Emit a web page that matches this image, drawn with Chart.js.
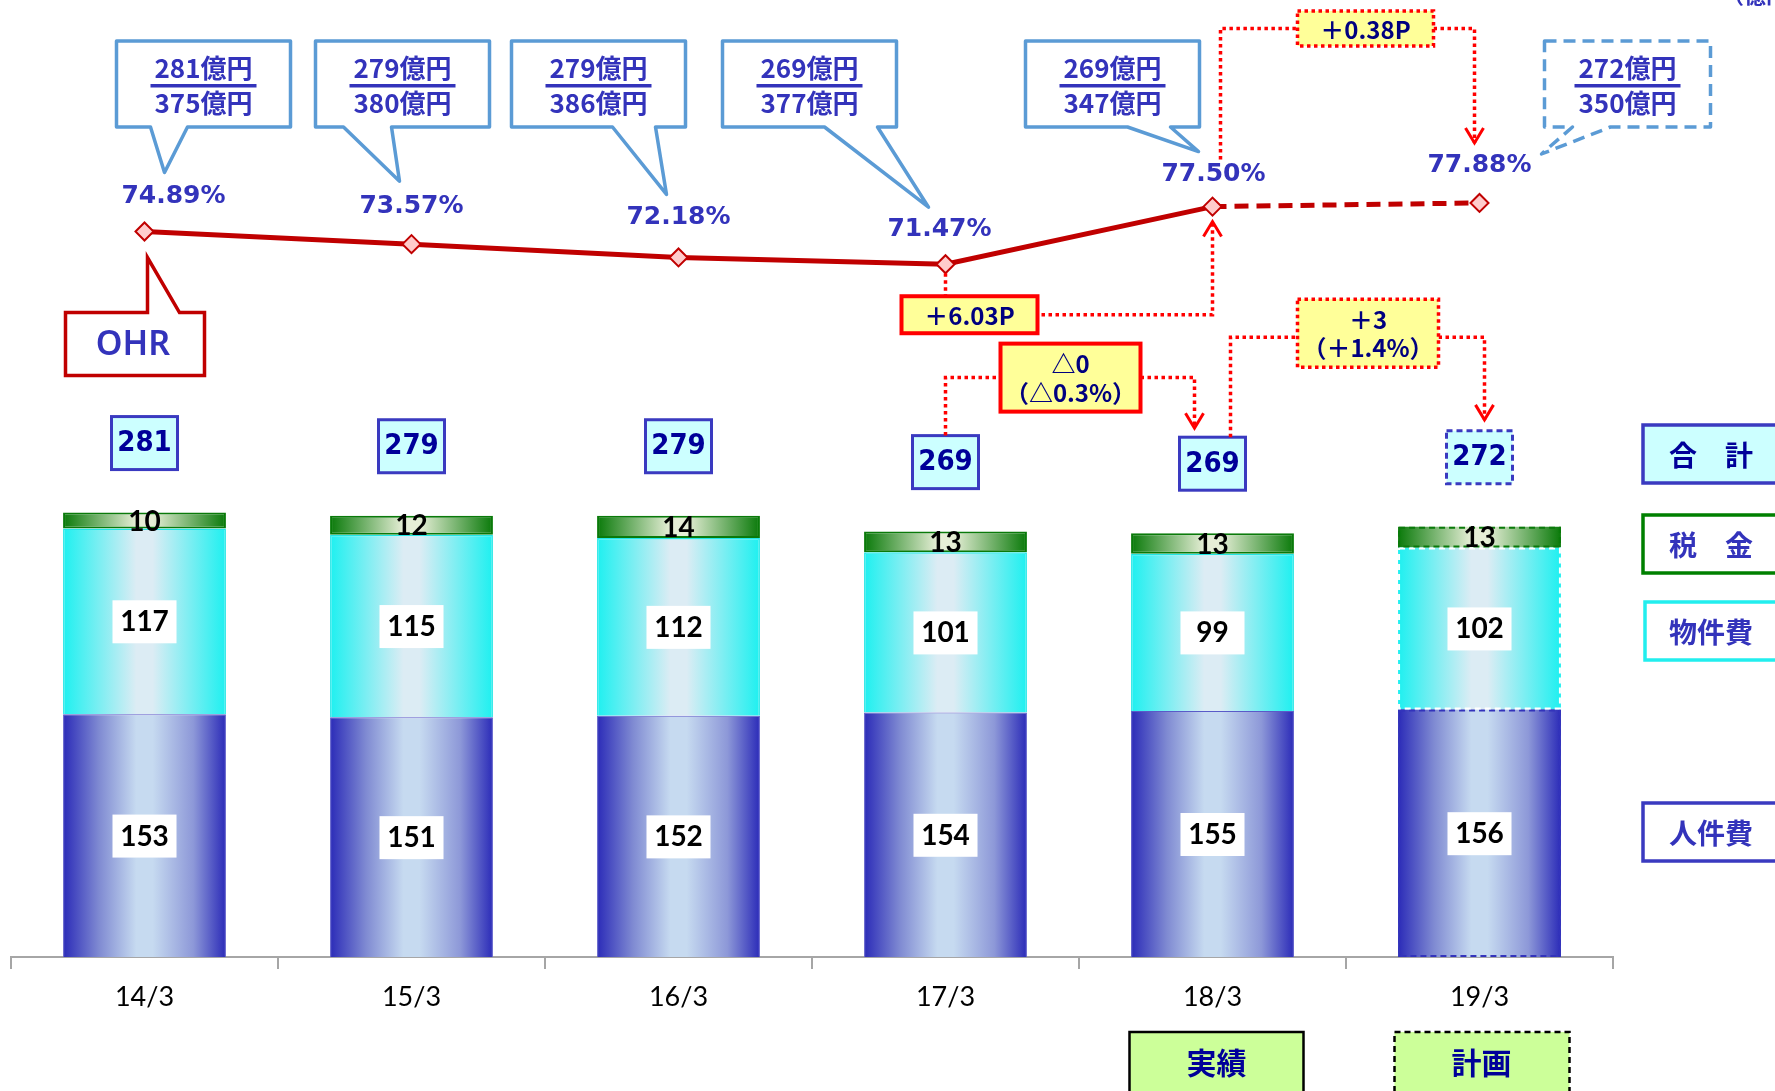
<!DOCTYPE html>
<html>
<head>
<meta charset="utf-8">
<script src="https://cdn.jsdelivr.net/npm/chart.js@4/dist/chart.umd.min.js"></script>
<style>
  html, body { margin: 0; padding: 0; background: #fff; overflow: hidden; }
</style>
</head>
<body>
<canvas id="chart" width="1775" height="1091"></canvas>
<script>
// data (億円 / %)
const periods = ['14/3', '15/3', '16/3', '17/3', '18/3', '19/3'];
const personnel = [153, 151, 152, 154, 155, 156];   // 人件費
const property = [117, 115, 112, 101, 99, 102];     // 物件費
const tax = [10, 12, 14, 13, 13, 13];               // 税金
const totals = [281, 279, 279, 269, 269, 272];      // 合計
const grossProfit = [375, 380, 386, 377, 347, 350]; // 業務粗利益 (分母)
const ohr = [74.89, 73.57, 72.18, 71.47, 77.50, 77.88];
const planIndex = 5; // 19/3 = 計画

const JP = '"Noto Sans CJK JP", sans-serif';
const NUM = 'Lato, "Noto Sans", sans-serif';
const NARROW = '"Liberation Sans Narrow", "DejaVu Sans Condensed", "Liberation Sans", sans-serif';
const NAVY = '#000099';
const BLUE_TXT = '#3333bb';

const blueStops = [[0, '#2b2bb8'], [0.22, '#7f8ad2'], [0.45, '#c6daf0'], [0.55, '#c6daf0'], [0.8, '#8d98d8'], [1, '#2b2bb8']];
const cyanStops = [[0, '#1ef0f0'], [0.45, '#dcecf4'], [0.55, '#dcecf4'], [1, '#1ef0f0']];
const greenStops = [[0, '#0a7a0a'], [0.45, '#e6eed6'], [0.55, '#e6eed6'], [1, '#0a7a0a']];

function barFill(stops) {
  return function (ctx) {
    const chart = ctx.chart;
    const xs = chart.scales.x;
    if (!xs || ctx.dataIndex === undefined) return stops[0][1];
    const cx = xs.getPixelForValue(ctx.dataIndex);
    const w = xs.width / periods.length * 0.61;
    if (!isFinite(cx) || !isFinite(w) || w <= 0) return stops[0][1];
    const g = chart.ctx.createLinearGradient(cx - w / 2, 0, cx + w / 2, 0);
    stops.forEach(s => g.addColorStop(s[0], s[1]));
    return g;
  };
}

function txt(c, s, x, y, font, color, align, base) {
  c.font = font;
  c.fillStyle = color;
  c.textAlign = align || 'center';
  c.textBaseline = base || 'middle';
  c.fillText(s, x, y);
}

function dotted(c, pts) {
  c.save();
  c.strokeStyle = '#ff0000';
  c.lineWidth = 3.5;
  c.setLineDash([3.5, 3.5]);
  c.beginPath();
  pts.forEach((p, i) => i ? c.lineTo(p[0], p[1]) : c.moveTo(p[0], p[1]));
  c.stroke();
  c.restore();
}

function arrowHead(c, x, y, dir) {
  // dir 1 = pointing down, -1 = pointing up
  c.save();
  c.strokeStyle = '#ff0000';
  c.lineWidth = 3;
  c.beginPath();
  c.moveTo(x - 9, y - dir * 15);
  c.lineTo(x, y);
  c.lineTo(x + 9, y - dir * 15);
  c.stroke();
  c.restore();
}

function rectBox(c, x, y, w, h, fill, stroke, lw, dash) {
  c.save();
  if (fill) { c.fillStyle = fill; c.fillRect(x, y, w, h); }
  if (stroke) {
    c.strokeStyle = stroke;
    c.lineWidth = lw;
    c.setLineDash(dash || []);
    c.strokeRect(x, y, w, h);
  }
  c.restore();
}

function yellowBox(c, x, y, w, h, solid, lines) {
  rectBox(c, x, y, w, h, '#ffff99', '#ff0000', solid ? 4 : 3.5, solid ? [] : [3.5, 3.5]);
  const f = 'bold 24px ' + JP;
  if (lines.length === 1) {
    txt(c, lines[0], x + w / 2, y + h / 2 + 1, f, '#000080');
  } else {
    txt(c, lines[0], x + w / 2, y + h * 0.3, f, '#000080');
    txt(c, lines[1], x + w / 2, y + h * 0.72, f, '#000080');
  }
}

const annotations = {
  id: 'annotations',
  afterDatasetsDraw(chart) {
    const c = chart.ctx;
    const xs = chart.scales.x, ys = chart.scales.y, ps = chart.scales.y2;
    const xc = i => xs.getPixelForValue(i);
    const py = i => ps.getPixelForValue(ohr[i]);

    // dashed outline of the plan bar, labels inside the bars
    const segMeta = [1, 2, 3].map(k => chart.getDatasetMeta(k));
    const dashCol = ['#3333bb', '#ffffff', '#0a7a0a'];
    segMeta.forEach((meta, k) => {
      meta.data.forEach((el, i) => {
        const top = Math.min(el.y, el.base), h = Math.abs(el.base - el.y);
        const left = el.x - el.width / 2;
        if (i === planIndex) {
          c.save();
          c.strokeStyle = dashCol[k];
          c.lineWidth = 2;
          c.setLineDash([6, 4]);
          c.strokeRect(left + 1, top + 1, el.width - 2, h - 2);
          c.restore();
        }
        const v = chart.data.datasets[k + 1].data[i];
        const cy = top + h / 2;
        if (k < 2) {
          rectBox(c, el.x - 32, cy - 21, 64, 43, '#ffffff');
        }
        txt(c, String(v), el.x, cy + 1, 'bold 28px ' + NUM, '#000');
      });
    });

    // total boxes
    const totTop = [];
    for (let i = 0; i < periods.length; i++) {
      const stackTop = personnel[i] + property[i] + tax[i];
      const cy = ys.getPixelForValue(stackTop) - 70;
      totTop.push(cy - 26);
      rectBox(c, xc(i) - 33, cy - 26, 66, 53, '#ccffff', '#3a3ac0', 3, i === planIndex ? [6, 4] : []);
      txt(c, String(totals[i]), xc(i), cy + 1, 'bold 29px ' + NARROW, NAVY);
    }

    // OHR labels
    const ldx = [29, 0, 0, -6, 1, 0];
    const ldy = [-35, -38, -40, -35, -32, -37];
    for (let i = 0; i < periods.length; i++) {
      txt(c, ohr[i].toFixed(2) + '%', xc(i) + ldx[i], py(i) + ldy[i], 'bold 25px "DejaVu Sans", sans-serif', BLUE_TXT);
    }

    // speech-bubble callouts: 経費 / 業務粗利益
    const cdx = [59, -9, -80, -136, -100, 148];
    const cw = [174, 174, 174, 174, 174, 166];
    const tailBase = [[34, 71], [28, 76], [101, 144], [102, 155], [102, 145], [28, 66]];
    const tipDx = [20, -12, -12, -17, -14, 62];
    const tipDy = [-59, -63, -63, -57, -55, -49];
    const boxTop = 41, boxH = 86;
    for (let i = 0; i < periods.length; i++) {
      const cx = xc(i) + cdx[i];
      const left = cx - cw[i] / 2, right = cx + cw[i] / 2, bottom = boxTop + boxH;
      const tipX = xc(i) + tipDx[i], tipY = py(i) + tipDy[i];
      c.save();
      c.beginPath();
      c.moveTo(left, boxTop);
      c.lineTo(right, boxTop);
      c.lineTo(right, bottom);
      c.lineTo(left + tailBase[i][1], bottom);
      c.lineTo(tipX, tipY);
      c.lineTo(left + tailBase[i][0], bottom);
      c.lineTo(left, bottom);
      c.closePath();
      c.fillStyle = '#fff';
      c.fill();
      c.strokeStyle = '#5b9bd5';
      c.lineWidth = 3.5;
      c.lineJoin = 'round';
      if (i === planIndex) c.setLineDash([12, 7]);
      c.stroke();
      c.restore();
      txt(c, totals[i] + '億円', cx, boxTop + 27, 'bold 26px ' + JP, BLUE_TXT);
      c.fillStyle = BLUE_TXT;
      c.fillRect(cx - 53, boxTop + 43, 106, 3.5);
      txt(c, grossProfit[i] + '億円', cx, boxTop + 62, 'bold 26px ' + JP, BLUE_TXT);
    }

    // OHR callout
    const ox = xc(0), oy = py(0);
    const oL = ox - 79, oT = oy + 81, oW = 139, oH = 63;
    c.save();
    c.beginPath();
    c.moveTo(oL, oT);
    c.lineTo(ox + 3, oT);
    c.lineTo(ox + 3, oy + 26);
    c.lineTo(ox + 35, oT);
    c.lineTo(oL + oW, oT);
    c.lineTo(oL + oW, oT + oH);
    c.lineTo(oL, oT + oH);
    c.closePath();
    c.fillStyle = '#fff';
    c.fill();
    c.strokeStyle = '#c00000';
    c.lineWidth = 3.5;
    c.stroke();
    c.restore();
    txt(c, 'OHR', oL + oW / 2 - 2, oT + oH / 2 + 1, '600 34px "Noto Sans", sans-serif', BLUE_TXT);

    // red dotted arrows
    // +6.03P
    const b1L = xc(3) - 44, b1T = py(3) + 32, b1W = 136, b1H = 37;
    dotted(c, [[xc(3), py(3) + 9], [xc(3), b1T]]);
    dotted(c, [[b1L + b1W + 4, b1T + b1H / 2], [xc(4), b1T + b1H / 2], [xc(4), py(4) + 15]]);
    arrowHead(c, xc(4), py(4) + 15, -1);
    yellowBox(c, b1L, b1T, b1W, b1H, true, ['＋6.03P']);

    // +0.38P
    const b2L = xc(4) + 85, b2T = 11, b2W = 136, b2H = 35;
    dotted(c, [[xc(4) + 8, py(4) - 47], [xc(4) + 8, b2T + b2H / 2], [b2L, b2T + b2H / 2]]);
    dotted(c, [[b2L + b2W, b2T + b2H / 2], [xc(5) - 5, b2T + b2H / 2], [xc(5) - 5, py(5) - 60]]);
    arrowHead(c, xc(5) - 5, py(5) - 60, 1);
    yellowBox(c, b2L, b2T, b2W, b2H, false, ['＋0.38P']);

    // △0 (△0.3%)
    const b3L = xc(3) + 55, b3T = totTop[3] - 92, b3W = 140, b3H = 68;
    dotted(c, [[xc(3), totTop[3]], [xc(3), b3T + b3H / 2], [b3L, b3T + b3H / 2]]);
    dotted(c, [[b3L + b3W, b3T + b3H / 2], [xc(4) - 18, b3T + b3H / 2], [xc(4) - 18, totTop[4] - 9]]);
    arrowHead(c, xc(4) - 18, totTop[4] - 9, 1);
    yellowBox(c, b3L, b3T, b3W, b3H, true, ['△0', '（△0.3%）']);

    // +3 (+1.4%)
    const b4L = xc(4) + 85, b4T = totTop[4] - 138, b4W = 141, b4H = 68;
    dotted(c, [[xc(4) + 18, totTop[4]], [xc(4) + 18, b4T + b4H / 2 + 4], [b4L, b4T + b4H / 2 + 4]]);
    dotted(c, [[b4L + b4W, b4T + b4H / 2 + 4], [xc(5) + 5, b4T + b4H / 2 + 4], [xc(5) + 5, totTop[5] - 11]]);
    arrowHead(c, xc(5) + 5, totTop[5] - 11, 1);
    yellowBox(c, b4L, b4T, b4W, b4H, false, ['＋3', '（＋1.4%）']);

    // legend boxes on the right
    const legX = chart.chartArea.right + 30;
    const leg = [
      ['合　計', 425, '#ccffff', '#3a3ac0', NAVY],
      ['税　金', 515, '#ffffff', '#008000', BLUE_TXT],
      ['物件費', 602, '#ffffff', '#22eeee', BLUE_TXT],
      ['人件費', 803, '#ffffff', '#3a3ac0', BLUE_TXT]
    ];
    leg.forEach(l => {
      rectBox(c, legX + (l[0] === '物件費' ? 2 : 0), l[1], 160, 58, l[2], l[3], 3.5);
      txt(c, l[0], legX + 68, l[1] + 30, 'bold 28px ' + JP, l[4]);
    });

    // unit
    txt(c, '（億円）', 1722, 6, 'bold 22px ' + JP, BLUE_TXT, 'left', 'bottom');

    // 実績 / 計画
    const bb = chart.chartArea.bottom + 75;
    rectBox(c, xc(4) - 83, bb, 174, 70, '#ccff99', '#000', 2.5);
    txt(c, '実績', xc(4) + 4, bb + 31, 'bold 30px ' + JP, NAVY);
    rectBox(c, xc(5) - 85, bb, 175, 70, '#ccff99', '#000', 2.5, [6, 4]);
    txt(c, '計画', xc(5) + 2, bb + 31, 'bold 30px ' + JP, NAVY);
  }
};

new Chart(document.getElementById('chart'), {
  data: {
    labels: periods,
    datasets: [
      {
        type: 'line', label: 'OHR', data: ohr, yAxisID: 'y2', order: 0,
        borderColor: '#c00000', borderWidth: 5, tension: 0, clip: false,
        pointStyle: 'rectRot', pointRadius: 9, pointBackgroundColor: '#ffcccc',
        pointBorderColor: '#c00000', pointBorderWidth: 2,
        segment: { borderDash: s => s.p0DataIndex >= planIndex - 1 ? [14, 8] : undefined }
      },
      {
        type: 'bar', label: '人件費', data: personnel, yAxisID: 'y', order: 1,
        backgroundColor: barFill(blueStops), borderColor: '#5a5ac8',
        borderWidth: c => c.dataIndex === planIndex ? 0 : 1
      },
      {
        type: 'bar', label: '物件費', data: property, yAxisID: 'y', order: 1,
        backgroundColor: barFill(cyanStops), borderColor: '#22e6e6',
        borderWidth: c => c.dataIndex === planIndex ? 0 : 1.5
      },
      {
        type: 'bar', label: '税金', data: tax, yAxisID: 'y', order: 1,
        backgroundColor: barFill(greenStops), borderColor: '#0a7a0a',
        borderWidth: c => c.dataIndex === planIndex ? 0 : 2, borderSkipped: false
      }
    ]
  },
  options: {
    responsive: false,
    animation: false,
    layout: { padding: { left: 10, right: 162, top: 0, bottom: 0 } },
    datasets: { bar: { barPercentage: 0.61, categoryPercentage: 1 } },
    plugins: { legend: { display: false }, tooltip: { enabled: false } },
    scales: {
      x: {
        stacked: true,
        offset: true,
        grid: { offset: true, drawOnChartArea: false, drawTicks: true, tickLength: 12, color: '#a6a6a6', lineWidth: 2 },
        border: { display: true, color: '#a6a6a6', width: 2 },
        ticks: { color: '#000', font: { family: 'Lato', size: 27 }, padding: 12 },
        afterFit: s => { s.height = 134; }
      },
      y: { stacked: true, display: false, min: 0, max: 596 },
      y2: { display: false, min: -1.0, max: 97.96 }
    }
  },
  plugins: [annotations]
});
</script>
</body>
</html>
